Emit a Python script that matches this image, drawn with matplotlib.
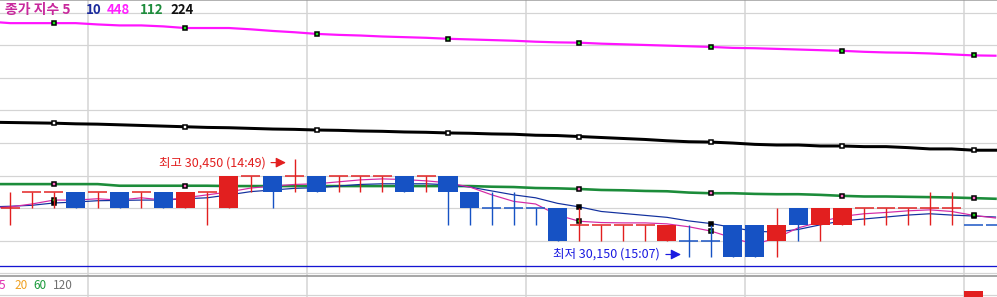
import numpy as np
import matplotlib
matplotlib.use("Agg")
import matplotlib.pyplot as plt

plt.rcParams['font.family'] = ['Noto Sans CJK KR', 'DejaVu Sans']

# one candle per bar (open, high, low, close)
opens = [30300, 30350, 30350, 30350, 30350, 30350, 30350, 30350, 30300, 30350,
         30300, 30400, 30400, 30400, 30400, 30400, 30400, 30400, 30400, 30400,
         30400, 30350, 30300, 30300, 30300, 30300, 30250, 30250, 30250, 30250,
         30200, 30200, 30200, 30250, 30250, 30200, 30300, 30250, 30250, 30300,
         30300, 30300, 30300, 30300, 30250, 30250]
highs = [30350, 30350, 30350, 30350, 30350, 30350, 30350, 30350, 30350, 30350,
         30400, 30400, 30400, 30450, 30400, 30400, 30400, 30400, 30400, 30400,
         30400, 30350, 30350, 30350, 30300, 30300, 30300, 30250, 30250, 30250,
         30250, 30250, 30250, 30250, 30250, 30300, 30300, 30300, 30300, 30300,
         30300, 30300, 30350, 30350, 30250, 30250]
lows = [30250, 30300, 30300, 30300, 30300, 30300, 30300, 30300, 30300, 30250,
        30300, 30350, 30300, 30350, 30350, 30350, 30350, 30350, 30350, 30350,
        30250, 30250, 30250, 30250, 30250, 30200, 30200, 30200, 30200, 30200,
        30200, 30150, 30150, 30150, 30150, 30150, 30200, 30200, 30250, 30250,
        30250, 30250, 30250, 30250, 30250, 30250]
closes = [30300, 30350, 30350, 30300, 30350, 30300, 30350, 30300, 30350, 30350,
          30400, 30400, 30350, 30400, 30350, 30400, 30400, 30400, 30350, 30400,
          30350, 30300, 30300, 30300, 30300, 30200, 30250, 30250, 30250, 30250,
          30250, 30200, 30200, 30150, 30150, 30250, 30250, 30300, 30300, 30300,
          30300, 30300, 30300, 30300, 30250, 30250]

# moving averages, starting one bar left of the first candle
ma5 = [30301, 30304, 30313, 30325, 30325, 30329, 30325, 30332, 30325, 30332,
       30341, 30350, 30362, 30368, 30373, 30375, 30381, 30387, 30390, 30388,
       30384, 30378, 30365, 30341, 30321, 30313, 30279, 30260, 30256, 30255,
       30255, 30252, 30243, 30230, 30209, 30189, 30209, 30240, 30258, 30275,
       30283, 30287, 30292, 30295, 30290, 30278, 30270]
ma10 = [30304, 30306, 30309, 30316, 30319, 30323, 30324, 30325, 30325, 30329,
        30332, 30341, 30351, 30356, 30361, 30363, 30368, 30373, 30375, 30375,
        30375, 30372, 30365, 30353, 30341, 30332, 30315, 30304, 30290, 30284,
        30278, 30272, 30261, 30253, 30241, 30229, 30227, 30235, 30249, 30261,
        30267, 30273, 30279, 30283, 30279, 30276, 30273]
ma112 = [30374, 30374, 30374, 30374, 30374, 30374, 30369, 30369, 30369, 30369,
         30369, 30368, 30368, 30368, 30368, 30368, 30368, 30368, 30368, 30368,
         30368, 30368, 30368, 30366, 30365, 30362, 30361, 30359, 30356, 30355,
         30353, 30352, 30348, 30346, 30346, 30344, 30343, 30343, 30341, 30338,
         30336, 30336, 30335, 30334, 30333, 30331, 30329]
ma224 = [30564, 30563, 30562, 30561, 30559, 30558, 30556, 30554, 30552, 30550,
         30548, 30547, 30545, 30543, 30542, 30540, 30539, 30537, 30536, 30534,
         30533, 30531, 30530, 30528, 30527, 30524, 30523, 30520, 30517, 30514,
         30511, 30507, 30504, 30503, 30500, 30496, 30494, 30494, 30491, 30491,
         30489, 30489, 30486, 30482, 30482, 30478, 30478]
ma448 = [30873, 30868, 30868, 30868, 30868, 30864, 30861, 30861, 30858, 30853,
         30853, 30853, 30849, 30844, 30840, 30835, 30832, 30830, 30827, 30825,
         30823, 30820, 30818, 30816, 30814, 30811, 30809, 30808, 30805, 30803,
         30801, 30799, 30797, 30795, 30792, 30791, 30789, 30787, 30785, 30783,
         30780, 30778, 30777, 30775, 30772, 30769, 30768]

hi_time = "14:49"
lo_time = "15:07"
ref_level = 30123
grid_levels = list(range(30100, 31000, 100))

# volume panel: only the last bars reach into the visible strip
vol_idx = [44]
vol_vals = [3.0]

RED = '#e21f1f'
BLUE = '#1652c4'
GRID = '#d4d4d4'
PX = 0.72  # one pixel in points at 100 dpi

W, H = 997, 297
fig = plt.figure(figsize=(W / 100, H / 100), dpi=100)
fig.patch.set_facecolor('white')

n = len(closes)
x = np.arange(n)
ma_x = np.arange(-1, n)
xlim = (-10 / 21.9, (W - 10) / 21.9)
vgrid = np.arange(3.58, n, 10)

ax = fig.add_axes([0, 1 - 276 / H, 1, 276 / H])
ax.set_xlim(*xlim)
ax.set_ylim(30092, 30939)
for s in ['left', 'right']:
    ax.spines[s].set_visible(False)
ax.spines['top'].set_color('#9a9a9a')
ax.spines['top'].set_linewidth(1.5 * PX)
ax.spines['bottom'].set_color('#8c8c8c')
ax.spines['bottom'].set_linewidth(1.5 * PX)
ax.set_xticks([])
ax.set_yticks([])

for lv in grid_levels:
    ax.axhline(lv, color=GRID, lw=1.2 * PX, zorder=0)
for gx in vgrid:
    ax.axvline(gx, color=GRID, lw=1.5 * PX, zorder=0)
ax.axhline(ref_level, color='#1414d2', lw=1.3 * PX, zorder=1)

# moving average lines
ax.plot(ma_x, ma448, color='#ff14ff', lw=2.2 * PX, zorder=2)
ax.plot(ma_x, ma224, color='#000000', lw=3 * PX, zorder=2)
ax.plot(ma_x, ma112, color='#1c8c3a', lw=2.6 * PX, zorder=2)
ax.plot(ma_x, ma10, color='#12309e', lw=1.2 * PX, zorder=2)
ax.plot(ma_x, ma5, color='#d42aa6', lw=1.2 * PX, zorder=2)

mk = np.arange(2, n, 6)
for vals, face in [(ma448, '#22dd22'), (ma224, 'white'), (ma112, '#ff70c8'),
                   (ma10, 'black'), (ma5, '#22cc22')]:
    ax.plot(mk, np.array(vals)[mk + 1], ls='none', marker='s', ms=3.3,
            mfc=face, mec='black', mew=1.1, zorder=3)

# candles
colors = []
for i in range(n):
    if closes[i] > opens[i]:
        c = RED
    elif closes[i] < opens[i]:
        c = BLUE
    elif i == 0 or closes[i] > closes[i - 1]:
        c = RED
    elif closes[i] < closes[i - 1]:
        c = BLUE
    else:
        c = colors[-1]
    colors.append(c)

bw = 19 / 21.9
for i in range(n):
    c = colors[i]
    if highs[i] > lows[i]:
        ax.vlines(i, lows[i], highs[i], color=c, lw=1.4 * PX, zorder=4)
    if opens[i] == closes[i]:
        ax.hlines(opens[i], i - bw / 2, i + bw / 2, color=c, lw=1.5 * PX, zorder=5)
    else:
        ax.bar(i, abs(closes[i] - opens[i]), bottom=min(opens[i], closes[i]),
               width=bw, color=c, lw=0, zorder=5)

# high / low labels
hi_i = int(np.argmax(highs))
lo_i = int(np.argmin(lows))
hi_y = max(highs) - 10
lo_y = min(lows) + 8
ax.text(hi_i - 1.3, hi_y, f"최고 {max(highs):,} ({hi_time})", color=RED,
        fontsize=9, ha='right', va='center', zorder=6)
ax.annotate('', xy=(hi_i - 0.4, hi_y), xytext=(hi_i - 1.08, hi_y),
            arrowprops=dict(arrowstyle='-|>,head_length=0.6,head_width=0.3',
                            color=RED, lw=1.2 * PX, shrinkA=0, shrinkB=0), zorder=6)
ax.text(lo_i - 1.32, lo_y, f"최저 {min(lows):,} ({lo_time})", color='#1a1ae0',
        fontsize=9, ha='right', va='center', zorder=6)
ax.annotate('', xy=(lo_i - 0.36, lo_y), xytext=(lo_i - 1.05, lo_y),
            arrowprops=dict(arrowstyle='-|>,head_length=0.6,head_width=0.3',
                            color='#1a1ae0', lw=1.2 * PX, shrinkA=0, shrinkB=0), zorder=6)

# volume strip
ax2 = fig.add_axes([0, 0, 1, 20 / H])
ax2.set_xlim(*xlim)
ax2.set_ylim(0, 10)
ax2.axis('off')
ax2.axhline(1, color=GRID, lw=1.2 * PX, zorder=0)
for gx in vgrid:
    ax2.axvline(gx, color=GRID, lw=1.5 * PX, zorder=0)
ax2.bar(vol_idx, vol_vals, width=bw, color=RED, lw=0, zorder=2)

# legends
def fx(px):
    return px / W

def fy(py):
    return 1 - py / H

for label, col, px, fs in [("종가 지수 5", '#c8289c', 5, 10), ("10", '#1a2a9c', 86, 9.5),
                           ("448", '#ff22ff', 107, 9.5), ("112", '#1e8c3c', 140, 9.5),
                           ("224", '#111111', 170, 9.5)]:
    fig.text(fx(px), fy(10), label, color=col, fontsize=fs, fontweight='bold',
             ha='left', va='center')

for label, col, px in [("5", '#e030b0', -1), ("20", '#f0a020', 14),
                       ("60", '#1a9a3a', 33), ("120", '#707070', 53)]:
    fig.text(fx(px), fy(285.5), label, color=col, fontsize=8.5,
             ha='left', va='center')

fig.savefig("out.png", dpi=100)
